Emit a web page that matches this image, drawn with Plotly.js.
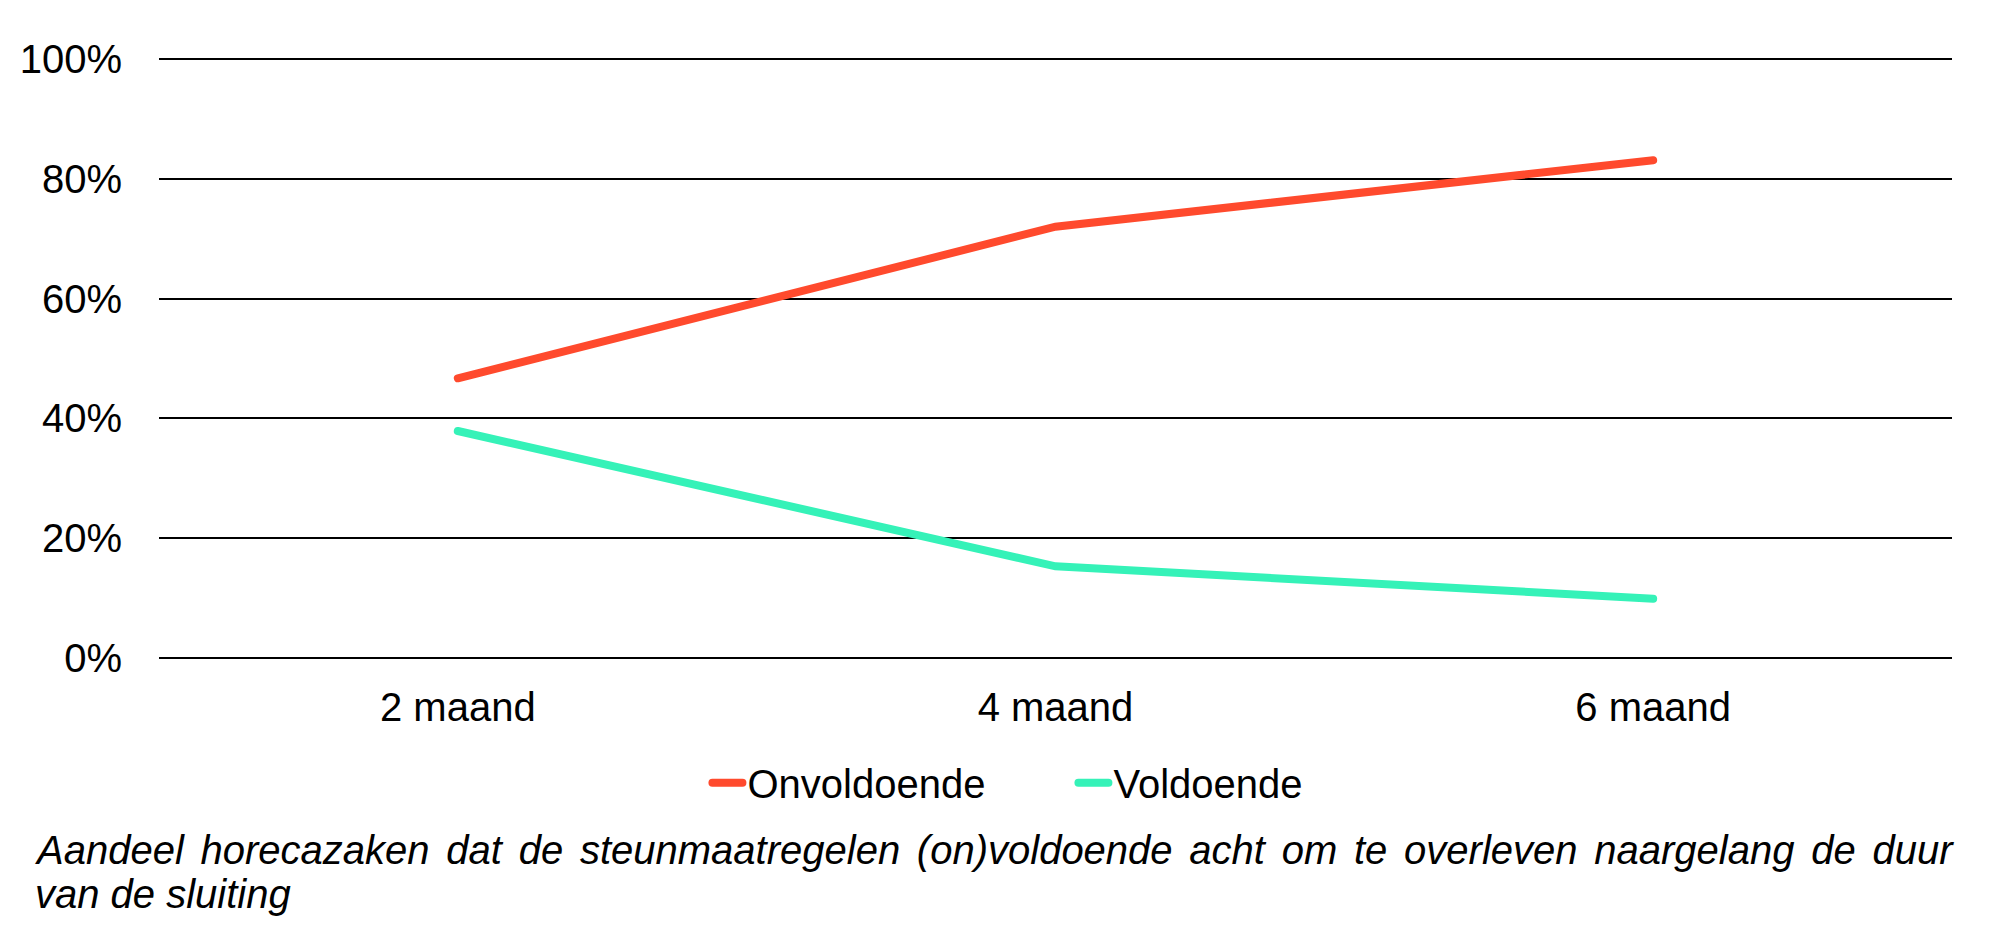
<!DOCTYPE html>
<html>
<head>
<meta charset="utf-8">
<script src="https://cdn.plot.ly/plotly-3.0.1.min.js"></script>
<style>
html,body{margin:0;padding:0;background:#fff;}
#chart{width:2000px;height:950px;}
path.js-line, .legendlines path{stroke-linecap:round;}
</style>
</head>
<body>
<div id="chart"></div>
<script>
const categories = ['2 maand', '4 maand', '6 maand'];
const onvoldoende = [46.7, 72, 83.1];
const voldoende = [37.9, 15.3, 9.9];
const yTicks = [0, 20, 40, 60, 80, 100];
const captionLine1 = 'Aandeel horecazaken dat de steunmaatregelen (on)voldoende acht om te overleven naargelang de duur';
const captionLine2 = 'van de sluiting';

const FONT = '"Liberation Sans", Arial, sans-serif';

const traces = [
  {
    x: categories, y: onvoldoende, name: 'Onvoldoende', type: 'scatter', mode: 'lines',
    line: {color: '#FF4A2D', width: 8}
  },
  {
    x: categories, y: voldoende, name: 'Voldoende', type: 'scatter', mode: 'lines',
    line: {color: '#35F2B8', width: 8}
  }
];

const capFont = {family: FONT, size: 40, color: '#000', style: 'italic'};
const capX = (32.5 - 159) / 1793;

const layout = {
  width: 2000, height: 950,
  paper_bgcolor: '#fff', plot_bgcolor: '#fff',
  margin: {l: 159, r: 48, t: 55.5, b: 288.5},
  font: {family: FONT, size: 40, color: '#000'},
  showlegend: true,
  xaxis: {
    type: 'category', range: [-0.5, 2.5], showgrid: false, zeroline: false, showline: false,
    ticks: 'outside', ticklen: 11, tickcolor: 'rgba(0,0,0,0)',
    tickfont: {family: FONT, size: 40, color: '#000'}, fixedrange: true
  },
  yaxis: {
    range: [-0.5, 100.5], tickvals: yTicks, ticktext: yTicks.map(v => v + '%'),
    showgrid: true, gridcolor: '#000', gridwidth: 2, zeroline: false, showline: false,
    ticks: 'outside', ticklen: 28, tickcolor: 'rgba(0,0,0,0)',
    tickfont: {family: FONT, size: 40, color: '#000'}, fixedrange: true
  },
  legend: {
    orientation: 'h', x: 0.510, xanchor: 'center', y: -0.2013, yanchor: 'middle',
    font: {family: FONT, size: 40, color: '#000'}, entrywidth: 321, bgcolor: 'rgba(0,0,0,0)'
  },
  annotations: [
    {
      text: captionLine1, xref: 'paper', yref: 'paper', x: capX, y: -0.3130,
      xanchor: 'left', yanchor: 'middle', align: 'left', showarrow: false, font: capFont
    },
    {
      text: captionLine2, xref: 'paper', yref: 'paper', x: capX, y: -0.3853,
      xanchor: 'left', yanchor: 'middle', align: 'left', showarrow: false, font: capFont
    }
  ]
};

Plotly.newPlot('chart', traces, layout, {displayModeBar: false, staticPlot: true}).then(function () {
  // the first caption line is justified to the plot's right edge in the original
  const t = document.querySelectorAll('#chart .annotation-text')[0];
  if (t && t.getComputedTextLength) {
    const w = t.getComputedTextLength();
    const gaps = captionLine1.split(' ').length - 1;
    const target = 1948 - 32.5;
    const extra = (target - w) / gaps;
    if (extra > 0 && extra < 20) t.style.wordSpacing = extra + 'px';
  }
});
</script>
</body>
</html>
